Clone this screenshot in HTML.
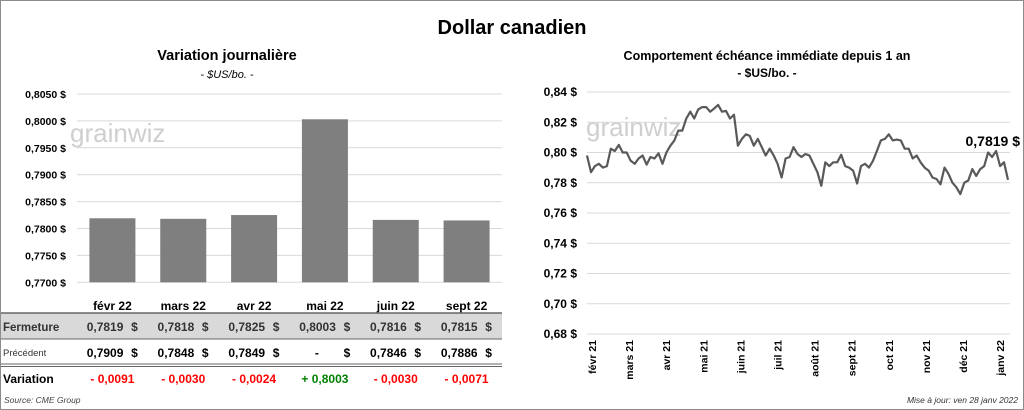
<!DOCTYPE html>
<html><head><meta charset="utf-8"><style>
body{margin:0;background:#fff;}
svg{display:block;font-family:"Liberation Sans",sans-serif;}
</style></head><body>
<svg width="1024" height="410" viewBox="0 0 1024 410">
<rect x="0.5" y="0.5" width="1023" height="409" fill="#fff" stroke="#8c8c8c"/>
<text x="512" y="34" text-anchor="middle" font-size="20" font-weight="bold">Dollar canadien</text>
<g id="left">
<text x="227" y="60" text-anchor="middle" font-size="14.5" font-weight="bold">Variation  journalière</text>
<text x="227" y="78" text-anchor="middle" font-size="11" font-style="italic">- $US/bo. -</text>
<text x="70" y="142" font-size="26" fill="#cfcfcf">grainwiz</text>
</g>
<g id="table">
<rect x="1" y="313" width="501" height="26" fill="#d9d9d9"/>
<line x1="1" y1="313" x2="502" y2="313" stroke="#666" stroke-width="1.5"/>
<line x1="1" y1="339" x2="502" y2="339" stroke="#666" stroke-width="1"/>
<line x1="1" y1="364" x2="502" y2="364" stroke="#666" stroke-width="1"/>
<line x1="1" y1="366.5" x2="502" y2="366.5" stroke="#666" stroke-width="1"/>
<text x="3" y="331" font-size="11.5" font-weight="bold" fill="#333">Fermeture</text>
<text x="3" y="356" font-size="9.5" fill="#333">Précédent</text>
<text x="3" y="383" font-size="12" font-weight="bold">Variation</text>
<text x="4" y="403" font-size="8.5" font-style="italic" fill="#444">Source: CME Group</text>
</g>
<g id="right">
<text x="767" y="60" text-anchor="middle" font-size="12.5" font-weight="bold">Comportement échéance immédiate depuis 1 an</text>
<text x="767" y="77" text-anchor="middle" font-size="12" font-weight="bold">- $US/bo. -</text>
<text x="586" y="136" font-size="26" fill="#cfcfcf">grainwiz</text>
<text x="1020" y="146" text-anchor="end" font-size="14" font-weight="bold">0,7819 $</text>
<text x="1018" y="403" text-anchor="end" font-size="8.5" font-style="italic" fill="#333">Mise à jour: ven 28 janv 2022</text>
</g>
</svg>
<script>
const months=["févr 22","mars 22","avr 22","mai 22","juin 22","sept 22"];
const closeVals=[0.7819,0.7818,0.7825,0.8003,0.7816,0.7815];
const prevVals=[0.7909,0.7848,0.7849,null,0.7846,0.7886];
const changeVals=[-0.0091,-0.0030,-0.0024,0.8003,-0.0030,-0.0071];
const leftTicks=[0.8050,0.8000,0.7950,0.7900,0.7850,0.7800,0.7750,0.7700];
const lineVals=[0.798,0.787,0.791,0.7925,0.790,0.791,0.8025,0.801,0.805,0.800,0.800,0.7945,0.7925,0.796,0.798,0.792,0.797,0.796,0.7995,0.7925,0.800,0.8045,0.808,0.8145,0.8145,0.8225,0.827,0.8225,0.8285,0.830,0.830,0.827,0.829,0.8315,0.827,0.8275,0.8225,0.825,0.8045,0.809,0.812,0.811,0.8045,0.809,0.8035,0.798,0.8025,0.798,0.7925,0.7835,0.796,0.797,0.8035,0.799,0.797,0.799,0.798,0.7925,0.787,0.778,0.7935,0.791,0.7935,0.7935,0.7985,0.791,0.790,0.788,0.7795,0.791,0.7925,0.790,0.7945,0.801,0.808,0.809,0.812,0.808,0.8085,0.808,0.8025,0.8025,0.796,0.798,0.7935,0.790,0.788,0.7835,0.7825,0.779,0.790,0.786,0.780,0.777,0.7725,0.780,0.7815,0.789,0.7845,0.789,0.791,0.800,0.797,0.801,0.791,0.7935,0.7819];
const rightTicks=[0.84,0.82,0.80,0.78,0.76,0.74,0.72,0.70,0.68];
const monthLabels=["févr 21","mars 21","avr 21","mai 21","juin 21","juil 21","août 21","sept 21","oct 21","nov 21","déc 21","janv 22"];
const monthPos=[0,1,2,3,4,5,6,7,8,9,10,11];

const NS="http://www.w3.org/2000/svg";
const svg=document.querySelector("svg");
function mk(tag,attrs,parent,text){const e=document.createElementNS(NS,tag);for(const k in attrs)e.setAttribute(k,attrs[k]);if(text!==undefined)e.textContent=text;(parent||svg).appendChild(e);return e;}
const fmt4=v=>v.toFixed(4).replace(".",",");
const fmt2=v=>v.toFixed(2).replace(".",",");

const L=document.getElementById("left");
const ly=v=>94+(0.8050-v)/0.0050*26.9;
const lx0=77,lw=425/months.length;
leftTicks.forEach(t=>{
 const g=mk("line",{x1:lx0,x2:502,y1:ly(t),y2:ly(t),stroke:"#d9d9d9"},L);
 
 
 const tx=mk("text",{x:66,y:ly(t)+4,"text-anchor":"end","font-size":"10.5","font-weight":"bold"},L,fmt4(t)+" $");
 
 
});
const T=document.getElementById("table");
months.forEach((m,i)=>{
 const cx=lx0+lw*(i+0.5);
 const b=mk("rect",{x:cx-23,y:ly(closeVals[i]),width:46,height:ly(0.77)-ly(closeVals[i]),fill:"#7f7f7f"},L);
 
 
 const c=mk("text",{x:cx,y:310,"text-anchor":"middle","font-size":"12","font-weight":"bold"},L,m);
 
 
 const f=mk("text",{x:cx+11,y:331,"text-anchor":"end","font-size":"12","font-weight":"bold","fill":"#333"},T,fmt4(closeVals[i]));
 
 
 const d1=mk("text",{x:cx+22,y:331,"text-anchor":"middle","font-size":"12","font-weight":"bold","fill":"#333"},T,"$");
 
 
 const p=mk("text",{x:prevVals[i]===null?cx-6:cx+11,y:357,"text-anchor":"end","font-size":"12","font-weight":"bold"},T,prevVals[i]===null?"-":fmt4(prevVals[i]));
 
 
 const d2=mk("text",{x:cx+22,y:357,"text-anchor":"middle","font-size":"12","font-weight":"bold"},T,"$");
 
 
 const dv=changeVals[i];
 const vt=(dv<0?"- ":"+ ")+fmt4(Math.abs(dv));
 const v=mk("text",{x:cx,y:383,"text-anchor":"middle","font-size":"12","font-weight":"bold",fill:dv<0?"#ff0000":"#008000"},T,vt);
 
 
});

const R=document.getElementById("right");
const ry=v=>92+(0.84-v)/0.02*30.25;
const rx0=587,rx1=1008;
rightTicks.forEach(t=>{
 const g=mk("line",{x1:rx0,x2:1010,y1:ry(t),y2:ry(t),stroke:"#d9d9d9"},R);
 
 
 const tx=mk("text",{x:577,y:ry(t)+4,"text-anchor":"end","font-size":"12","font-weight":"bold"},R,fmt2(t)+" $");
 
 
});
const rx=i=>rx0+(rx1-rx0)*i/(lineVals.length-1);
const pts=lineVals.map((v,i)=>rx(i).toFixed(1)+","+ry(v).toFixed(1)).join(" ");
const pl=mk("polyline",{points:pts,fill:"none",stroke:"#595959","stroke-width":"2.2","stroke-linejoin":"round"},R);


const mx=i=>592+i*37.1;
monthLabels.forEach((m,i)=>{
 const x=mx(monthPos[i]);
 const t=mk("text",{x:0,y:0,transform:`translate(${x+4},340) rotate(-90)`,"text-anchor":"end","font-size":"10.5","font-weight":"bold"},R,m);
 
 
});
</script>
</body></html>
